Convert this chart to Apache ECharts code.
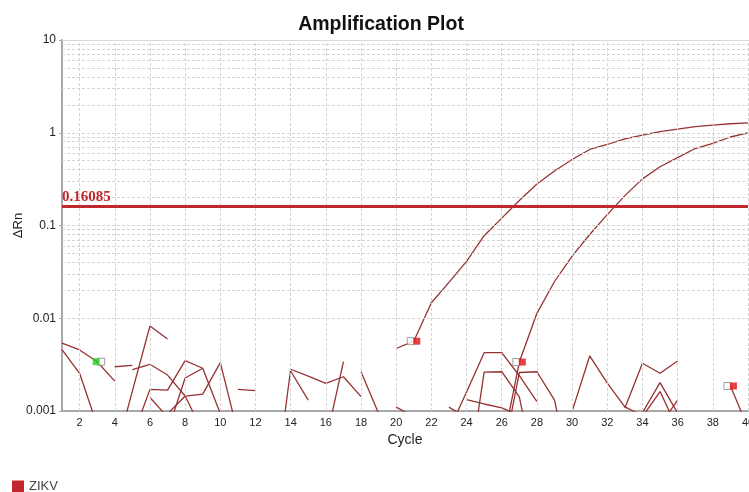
<!DOCTYPE html>
<html><head><meta charset="utf-8">
<script src="https://cdn.jsdelivr.net/npm/echarts@6/dist/echarts.min.js"></script>
<style>html,body{margin:0;padding:0;background:#fff}#c{width:749px;height:492px}</style>
</head><body><div id="c"></div>
<script>
// ---- data (cycle, ΔRn) ----
const xTickLabels = [2,4,6,8,10,12,14,16,18,20,22,24,26,28,30,32,34,36,38,40];
const yTickLabels = [0.001,0.01,0.1,1,10];
const threshold = 0.16085;
const seriesName = 'ZIKV';

const curve1 = [[20,0.00472],[21,0.00566],[22,0.0147],[23,0.0244],[24,0.041],[25,0.0776],[26,0.12],[27,0.186],[28,0.28],[29,0.387],[30,0.515],[31,0.66],[32,0.747],[33,0.857],[34,0.945],[35,1.03],[36,1.097],[37,1.167],[38,1.21],[39,1.25],[40,1.28]];
const curve2 = [[26,0.00038],[27,0.00337],[28,0.0113],[29,0.0249],[30,0.0467],[31,0.080],[32,0.131],[33,0.21],[34,0.318],[35,0.43],[36,0.54],[37,0.676],[38,0.77],[39,0.90],[40,0.997]];
const noiseA = [[1,0.0054],[2,0.00455],[3,0.0034],[4,0.0021]];
const noiseB = [[1,0.0046],[2,0.00255],[3,0.0007]];
const noiseC = [[4,0.0030],[5,0.0031]];
const noiseD = [[4,0.00032],[5,0.00164],[6,0.00825],[7,0.00597]];
const noiseE = [[5,0.0028],[6,0.00319],[7,0.00244],[8,0.00145],[9,0.0006]];
const noiseF = [[5,0.00052],[6,0.00171],[7,0.00168],[8,0.00349],[9,0.00289],[10,0.00094]];
const noiseG = [[7,0.00093],[8,0.00145],[9,0.00152],[10,0.00332],[11,0.00058]];
const noiseH = [[7,0.0006],[8,0.00227],[9,0.00289]];
const noiseY = [[6,0.0014],[7,0.00086]];
const noiseK11 = [[11,0.00171],[12,0.00166]];
const noiseI = [[13,0.0001],[14,0.00282],[15,0.00238],[16,0.00199],[17,0.00234],[18,0.00143]];
const noiseJ = [[14,0.0027],[15,0.00131]];
const noiseK = [[16,0.00047],[17,0.0034]];
const noiseL = [[18,0.00265],[19,0.00094]];
const noiseM = [[20,0.0011],[21,0.00087]];
const noiseN23 = [[23,0.0011],[24,0.00084]];
const noiseN = [[23,0.00062],[24,0.0016],[25,0.00425],[26,0.00425],[27,0.0024],[28,0.00126]];
const noiseO = [[24,0.00133],[25,0.00119],[26,0.00108],[27,0.0009]];
const noiseP = [[24,0.00014],[25,0.00263],[26,0.00265],[27,0.00142],[28,0.00017]];
const noiseR = [[26,0.00028],[27,0.0026],[28,0.00265],[29,0.00131],[30,0.00017]];
const noiseS = [[30,0.00099],[31,0.00392],[32,0.002],[33,0.00111],[34,0.00089]];
const noiseT = [[33,0.00108],[34,0.00327],[35,0.00255],[36,0.00346]];
const noiseU = [[34,0.00096],[35,0.00202],[36,0.00095]];
const noiseV = [[34,0.00087],[35,0.00162],[36,0.00064]];
const noiseW = [[35,0.0007],[36,0.00131]];
const noiseX = [[39,0.00186],[40,0.00066]];

const markersRed = [[21,0.00566],[27,0.00337],[39,0.00186]];
const markersGreen = [[3,0.0034]];

const traces = [curve1, curve2, noiseA, noiseB, noiseC, noiseD, noiseE, noiseF, noiseG, noiseH, noiseY, noiseK11,
  noiseI, noiseJ, noiseK, noiseL, noiseM, noiseN23, noiseN, noiseO, noiseP, noiseR, noiseS, noiseT, noiseU, noiseV, noiseW, noiseX];

// ---- styling ----
const traceColor = '#963232';
const threshColor = '#c0282d';
const gridColor = '#d4d4d4';

const xGrid = xTickLabels.slice();
const yGrid = [];
[0.001,0.01,0.1,1].forEach(d => { for (let m = 1; m <= 9; m++) yGrid.push(+(d*m).toPrecision(3)); });

const series = [];
series.push({
  type: 'line', data: [], z: 1, silent: true, animation: false,
  markLine: {
    silent: true, symbol: 'none', animation: false, label: {show: false},
    lineStyle: {color: gridColor, type: [3,2], width: 1},
    data: xGrid.map(v => ({xAxis: v})).concat(yGrid.map(v => ({yAxis: v})))
  }
});
series.push({
  type: 'line', data: [], z: 1, silent: true, animation: false,
  markLine: {
    silent: true, symbol: 'none', animation: false, label: {show: false},
    lineStyle: {color: '#d8d8d8', type: 'solid', width: 1},
    data: [{yAxis: 10}]
  }
});
traces.forEach(t => series.push({
  name: seriesName, type: 'line', data: t, symbol: 'none', z: 3, silent: true, animation: false,
  lineStyle: {color: traceColor, width: 1.3}, itemStyle: {color: traceColor}
}));
series.push({
  type: 'line', data: [], z: 4, silent: true, animation: false,
  markLine: {
    silent: true, symbol: 'none', animation: false,
    lineStyle: {color: threshColor, type: 'solid', width: 3},
    label: {show: true, position: 'insideStartTop', formatter: String(threshold), color: threshColor,
      fontFamily: 'Liberation Serif', fontWeight: 'bold', fontSize: 15, distance: [0, 2]},
    data: [{yAxis: threshold}]
  }
});
// markers: white square + coloured square
series.push({type: 'scatter', data: markersRed, symbol: 'rect', symbolSize: 7, symbolOffset: [-3,0], z: 5, silent: true, animation: false,
  itemStyle: {color: '#ffffff', borderColor: '#8a8a8a', borderWidth: 1}});
series.push({type: 'scatter', data: markersRed, symbol: 'rect', symbolSize: 7, symbolOffset: [3,0], z: 6, silent: true, animation: false,
  itemStyle: {color: '#e01010'}});
series.push({type: 'scatter', data: markersGreen, symbol: 'rect', symbolSize: 7, symbolOffset: [4,0], z: 5, silent: true, animation: false,
  itemStyle: {color: '#ffffff', borderColor: '#8a8a8a', borderWidth: 1}});
series.push({type: 'scatter', data: markersGreen, symbol: 'rect', symbolSize: 7, symbolOffset: [-1,0], z: 6, silent: true, animation: false,
  itemStyle: {color: '#22d022'}});

const chart = echarts.init(document.getElementById('c'), null, {renderer: 'canvas'});
chart.setOption({
  animation: false,
  backgroundColor: '#ffffff',
  title: {text: 'Amplification Plot', left: 376, textAlign: 'center', top: 10,
    textStyle: {fontFamily: 'Liberation Sans', fontWeight: 'bold', fontSize: 19.5, color: '#111'}},
  legend: {left: 12, top: 480, padding: 0, itemWidth: 12, itemHeight: 12, itemGap: 6, icon: 'rect',
    textStyle: {fontFamily: 'Liberation Sans', fontSize: 13, color: '#444'},
    data: [{name: seriesName, icon: 'rect', itemStyle: {color: threshColor}}]},
  grid: {left: 62, right: 1, top: 40, bottom: 81, containLabel: false, outerBoundsMode: 'none'},
  xAxis: {
    type: 'value', min: 1, max: 40,
    name: 'Cycle', nameLocation: 'middle', nameGap: 18,
    nameTextStyle: {fontFamily: 'Liberation Sans', fontSize: 14, color: '#222'},
    axisLine: {show: true, lineStyle: {color: '#a8a8a8', width: 2}},
    axisTick: {show: false},
    axisLabel: {customValues: xTickLabels, fontFamily: 'Liberation Sans', fontSize: 11, color: '#222', margin: 6},
    splitLine: {show: false}
  },
  yAxis: {
    type: 'log', logBase: 10, min: 0.001, max: 10,
    name: 'ΔRn', nameLocation: 'middle', nameGap: 37, nameRotate: 90, nameMoveOverlap: false,
    nameTextStyle: {fontFamily: 'Liberation Sans', fontSize: 13, color: '#222'},
    axisLine: {show: true, lineStyle: {color: '#a8a8a8', width: 2}},
    axisTick: {show: true, length: 3, lineStyle: {color: '#a8a8a8'}},
    axisLabel: {fontFamily: 'Liberation Sans', fontSize: 12, color: '#222', margin: 6,
      formatter: v => String(+(+v).toPrecision(3))},
    splitLine: {show: false}
  },
  series: series
});
</script></body></html>
